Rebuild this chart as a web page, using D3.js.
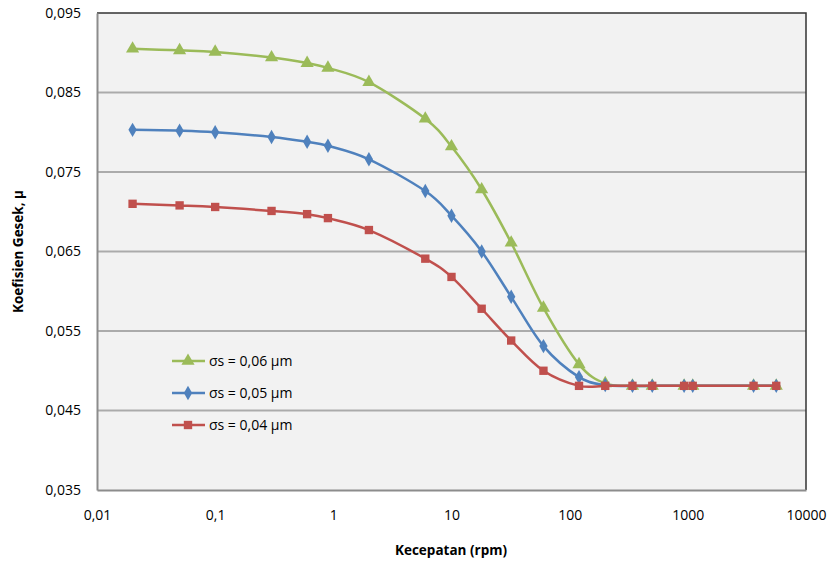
<!DOCTYPE html>
<html>
<head>
<meta charset="utf-8">
<script src="https://cdn.jsdelivr.net/npm/d3@7/dist/d3.min.js"></script>
<style>
  body { margin: 0; background: #fff; }
  svg { display: block; }
  text { font-family: "Open Sans", "Noto Sans", sans-serif; fill: #000; }
</style>
</head>
<body>
<svg id="chart" width="831" height="564"></svg>
<script>
// ---- data ----
const speed = [0.02, 0.05, 0.1, 0.3, 0.6, 0.9, 2, 6, 10, 18, 32, 60, 120, 200, 340, 500, 930, 1100, 3600, 5600];
const mu006 = [0.0905, 0.0903, 0.0901, 0.0894, 0.0887, 0.0881, 0.0863, 0.0817, 0.0782, 0.0728, 0.0661, 0.0579, 0.0508, 0.0484, 0.0481, 0.0481, 0.0481, 0.0481, 0.0481, 0.0481];
const mu005 = [0.0803, 0.0802, 0.0800, 0.0794, 0.0788, 0.0783, 0.0766, 0.0726, 0.0695, 0.0650, 0.0593, 0.0531, 0.0492, 0.0482, 0.0481, 0.0481, 0.0481, 0.0481, 0.0481, 0.0481];
const mu004 = [0.0710, 0.0708, 0.0706, 0.0701, 0.0697, 0.0692, 0.0677, 0.0641, 0.0618, 0.0578, 0.0538, 0.0500, 0.0481, 0.0481, 0.0481, 0.0481, 0.0481, 0.0481, 0.0481, 0.0481];
const seriesNames = ["σs = 0,06 μm", "σs = 0,05 μm", "σs = 0,04 μm"];
const seriesColors = ["#9bbb59", "#4f81bd", "#c0504d"];
const seriesSymbols = ["triangle", "diamond", "square"];
const xTicks = [0.01, 0.1, 1, 10, 100, 1000, 10000];
const xTickLabels = ["0,01", "0,1", "1", "10", "100", "1000", "10000"];
const yTicks = [0.035, 0.045, 0.055, 0.065, 0.075, 0.085, 0.095];
const yTickLabels = ["0,035", "0,045", "0,055", "0,065", "0,075", "0,085", "0,095"];
const xTitle = "Kecepatan (rpm)";
const yTitle = "Koefisien Gesek, μ";

const svg = d3.select("#chart");
const L = 97, T = 13, R = 806, B = 490;

const x = d3.scaleLog().domain([0.01, 10000]).range([L, R]);
const y = d3.scaleLinear().domain([0.035, 0.095]).range([B, T]);

// plot background
svg.append("rect").attr("x", L).attr("y", T).attr("width", R - L).attr("height", B - T)
  .attr("fill", "#f2f2f2");

// gridlines
svg.append("g").selectAll("line").data(yTicks.filter(d => d > 0.036 && d < 0.094)).join("line")
  .attr("x1", L).attr("x2", R)
  .attr("y1", d => y(d)).attr("y2", d => y(d))
  .attr("stroke", "#ababab").attr("stroke-width", 2);

// top & right border (dark)
svg.append("path")
  .attr("d", `M${L},${T}H${R}V${B}`)
  .attr("fill", "none").attr("stroke", "#333").attr("stroke-width", 1.5);

// axes
const yAxis = d3.axisLeft(y).tickValues(yTicks).tickFormat((d, i) => yTickLabels[i]).tickSize(0).tickPadding(16);
const gy = svg.append("g").attr("transform", `translate(${L},0)`).call(yAxis);
gy.select(".domain").attr("stroke", "#8c8c8c").attr("stroke-width", 2);
gy.selectAll("text").attr("font-size", 14).attr("font-family", "Open Sans");

const xAxis = d3.axisBottom(x).tickValues(xTicks).tickFormat((d, i) => xTickLabels[i]).tickSize(0).tickPadding(20);
const gx = svg.append("g").attr("transform", `translate(0,${B})`).call(xAxis);
gx.select(".domain").attr("stroke", "#8c8c8c").attr("stroke-width", 2);
gx.selectAll("text").attr("font-size", 14).attr("font-family", "Open Sans");

// titles
svg.append("text").attr("x", 451).attr("y", 555).attr("text-anchor", "middle")
  .attr("font-size", 13.5).attr("font-weight", "bold").text(xTitle);
svg.append("text").attr("transform", `translate(23,${(T + B) / 2}) rotate(-90)`)
  .attr("text-anchor", "middle").attr("font-size", 13.5).attr("font-weight", "bold").text(yTitle);

// series
const allSeries = [mu006, mu005, mu004];
const symbolType = { triangle: d3.symbolTriangle, diamond: d3.symbolDiamond, square: d3.symbolSquare };
const symbolSize = { triangle: 75, diamond: 60, square: 70 };
const line = d3.line().x(d => x(d[0])).y(d => y(d[1])).curve(d3.curveCatmullRom.alpha(0));

allSeries.forEach((vals, i) => {
  const pts = speed.map((s, j) => [s, vals[j]]);
  const g = svg.append("g");
  g.append("path").attr("d", line(pts)).attr("fill", "none")
    .attr("stroke", seriesColors[i]).attr("stroke-width", 2.5);
  g.selectAll("path.m").data(pts).join("path").attr("class", "m")
    .attr("transform", d => `translate(${x(d[0])},${y(d[1])})`)
    .attr("d", d3.symbol().type(symbolType[seriesSymbols[i]]).size(symbolSize[seriesSymbols[i]]))
    .attr("fill", seriesColors[i]);
});

// legend
const legY = [361, 393, 425];
seriesNames.forEach((name, i) => {
  const g = svg.append("g").attr("transform", `translate(0,${legY[i]})`);
  g.append("line").attr("x1", 172).attr("x2", 205).attr("y1", 0).attr("y2", 0)
    .attr("stroke", seriesColors[i]).attr("stroke-width", 2.5);
  g.append("path").attr("transform", "translate(188,0)")
    .attr("d", d3.symbol().type(symbolType[seriesSymbols[i]]).size(symbolSize[seriesSymbols[i]]))
    .attr("fill", seriesColors[i]);
  g.append("text").attr("x", 209).attr("y", 0).attr("dy", "0.35em")
    .attr("font-size", 14).text(name);
});
</script>
</body>
</html>
